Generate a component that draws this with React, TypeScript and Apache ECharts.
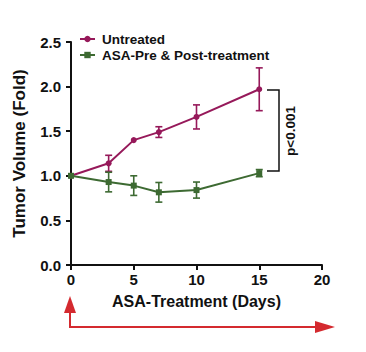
import React, { useEffect, useRef } from "react";
import * as echarts from "echarts";

const days = [0, 3, 5, 7, 10, 15];
const untreated = [1.0, 1.14, 1.4, 1.49, 1.66, 1.97];
const untreatedErr = [0.0, 0.09, 0.0, 0.06, 0.135, 0.24];
const asa = [1.0, 0.93, 0.89, 0.815, 0.84, 1.03];
const asaErr = [0.0, 0.11, 0.11, 0.11, 0.09, 0.04];
const seriesNames = ["Untreated", "ASA-Pre & Post-treatment"];
const xTicks = { min: 0, max: 20, interval: 5 };
const yTicks = { min: 0, max: 2.5, interval: 0.5 };

const MAG = "#96195a";
const GRN = "#3d6a32";
const RED = "#d42a2f";
const FONT = "Liberation Sans, Arial, sans-serif";

function errData(vals: number[], errs: number[]) {
  return days.map((d, i) => [d, vals[i] - errs[i], vals[i] + errs[i]]);
}

function errSeries(vals: number[], errs: number[], color: string) {
  return {
    type: "custom",
    data: errData(vals, errs),
    z: 3,
    silent: true,
    renderItem: (params: any, api: any) => {
      const x = api.value(0);
      const lo = api.coord([x, api.value(1)]);
      const hi = api.coord([x, api.value(2)]);
      if (Math.abs(hi[1] - lo[1]) < 1) return { type: "group", children: [] };
      const w = 3.5;
      const style = { stroke: color, lineWidth: 1.6, fill: "none" };
      return {
        type: "group",
        children: [
          { type: "line", shape: { x1: lo[0], y1: lo[1], x2: hi[0], y2: hi[1] }, style },
          { type: "line", shape: { x1: lo[0] - w, y1: lo[1], x2: lo[0] + w, y2: lo[1] }, style },
          { type: "line", shape: { x1: hi[0] - w, y1: hi[1], x2: hi[0] + w, y2: hi[1] }, style },
        ],
      };
    },
  };
}

export default function App() {
  const ref = useRef<HTMLDivElement>(null);
  useEffect(() => {
    if (!ref.current) return;
    const chart = echarts.init(ref.current, undefined, { renderer: "svg" });
    const axisLabel = { color: "#111", fontFamily: FONT, fontWeight: "bold", fontSize: 15 };
    chart.setOption({
      animation: false,
      backgroundColor: "#fff",
      grid: { left: 71, right: 44, top: 42, bottom: 87 },
      legend: {
        left: 74,
        top: 27,
        orient: "vertical",
        itemGap: 2,
        itemWidth: 15,
        itemHeight: 8,
        data: seriesNames,
        textStyle: { color: "#111", fontFamily: FONT, fontWeight: "bold", fontSize: 13.5, padding: [0, 0, 0, 2] },
      },
      xAxis: {
        type: "value",
        ...xTicks,
        name: "ASA-Treatment (Days)",
        nameLocation: "middle",
        nameGap: 28,
        nameTextStyle: { color: "#111", fontFamily: FONT, fontWeight: "bold", fontSize: 16 },
        axisLine: { show: true, lineStyle: { color: "#111", width: 2 } },
        axisTick: { show: true, length: 5, lineStyle: { color: "#111", width: 2 } },
        axisLabel: { ...axisLabel, margin: 7 },
        splitLine: { show: false },
      },
      yAxis: {
        type: "value",
        ...yTicks,
        name: "Tumor Volume (Fold)",
        nameLocation: "middle",
        nameGap: 43,
        nameTextStyle: { color: "#111", fontFamily: FONT, fontWeight: "bold", fontSize: 17 },
        axisLine: { show: true, lineStyle: { color: "#111", width: 2 } },
        axisTick: { show: true, length: 5, lineStyle: { color: "#111", width: 2 } },
        axisLabel: { ...axisLabel, margin: 10, formatter: (v: number) => v.toFixed(1) },
        splitLine: { show: false },
      },
      series: [
        {
          name: seriesNames[0],
          type: "line",
          data: days.map((d, i) => [d, untreated[i]]),
          symbol: "circle",
          symbolSize: 6,
          itemStyle: { color: MAG },
          lineStyle: { color: MAG, width: 2 },
          z: 4,
        },
        {
          name: seriesNames[1],
          type: "line",
          data: days.map((d, i) => [d, asa[i]]),
          symbol: "rect",
          symbolSize: 6,
          itemStyle: { color: GRN },
          lineStyle: { color: GRN, width: 2 },
          z: 4,
        },
        errSeries(untreated, untreatedErr, MAG),
        errSeries(asa, asaErr, GRN),
      ],
      graphic: [
        {
          type: "polyline",
          shape: { points: [[267, 90], [279, 90], [279, 171], [267, 171]] },
          style: { stroke: "#111", lineWidth: 1.5, fill: "none" },
        },
        {
          type: "text",
          x: 290,
          y: 131,
          rotation: Math.PI / 2,
          style: {
            text: "p<0.001",
            fill: "#111",
            font: `bold 13.5px ${FONT}`,
            align: "center",
            verticalAlign: "middle",
          },
        },
        {
          type: "polyline",
          shape: { points: [[70, 312], [70, 327], [318, 327]] },
          style: { stroke: RED, lineWidth: 2, fill: "none" },
        },
        {
          type: "polygon",
          shape: { points: [[70, 296], [64, 313], [76, 313]] },
          style: { fill: RED },
        },
        {
          type: "polygon",
          shape: { points: [[335, 327], [315, 321], [315, 333]] },
          style: { fill: RED },
        },
      ],
    });
    return () => chart.dispose();
  }, []);
  return <div ref={ref} style={{ width: 366, height: 352, position: "absolute", left: 0, top: 0 }} />;
}
